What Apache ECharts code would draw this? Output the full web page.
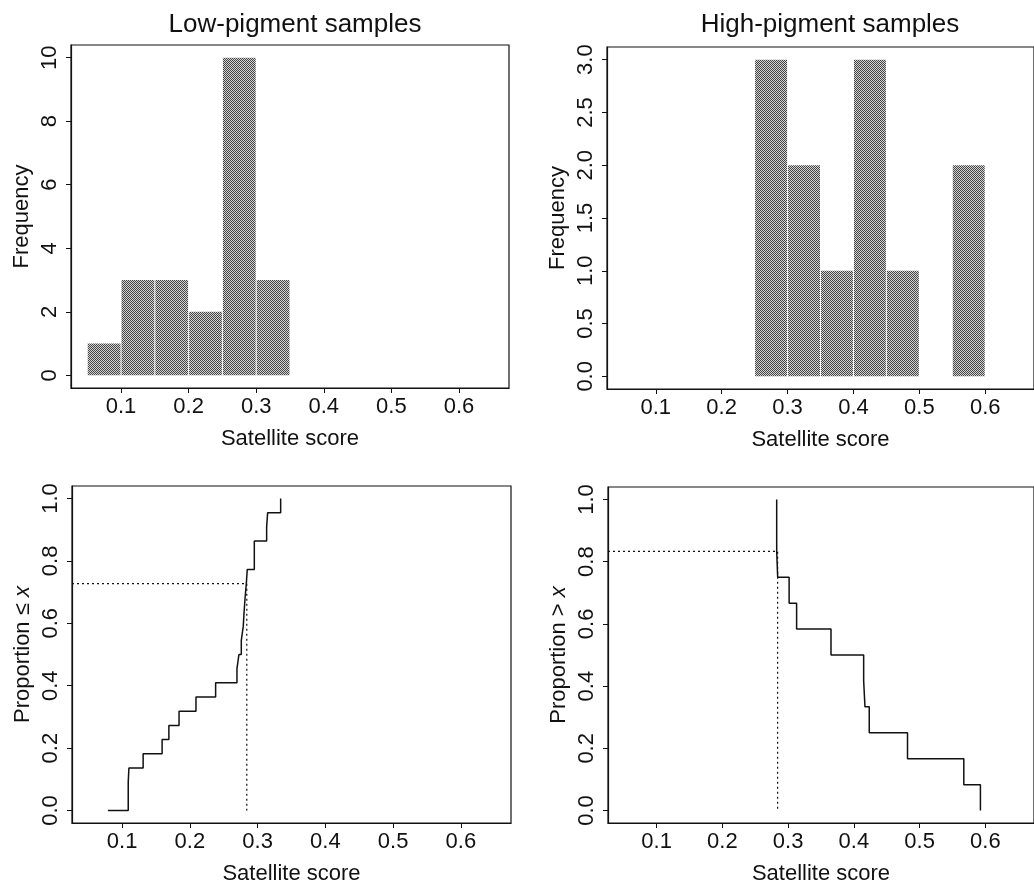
<!DOCTYPE html>
<html>
<head>
<meta charset="utf-8">
<script src="https://cdn.jsdelivr.net/npm/echarts@6/dist/echarts.min.js"></script>
<style>
html,body{margin:0;padding:0;background:#fff;}
#chart{width:1034px;height:886px;}
</style>
</head>
<body>
<div id="chart"></div>
<script>
// ---------------- DATA ----------------
const titles = ['Low-pigment samples', 'High-pigment samples'];
const xAxisName = 'Satellite score';
const xTicks = [0.1, 0.2, 0.3, 0.4, 0.5, 0.6];
const xRange = [0.026, 0.674];
const binWidth = 0.05;

// histogram: bin left edges and counts
const lowBinStarts = [0.05, 0.10, 0.15, 0.20, 0.25, 0.30];
const lowCounts = [1, 3, 3, 2, 10, 3];
const highBinStarts = [0.25, 0.30, 0.35, 0.40, 0.45, 0.50, 0.55];
const highCounts = [3, 2, 1, 3, 1, 0, 2];

const lowFreqTicks = [0, 2, 4, 6, 8, 10];
const lowFreqRange = [-0.4, 10.4];
const highFreqTicks = [0, 0.5, 1.0, 1.5, 2.0, 2.5, 3.0];
const highFreqRange = [-0.12, 3.12];

const propTicks = [0, 0.2, 0.4, 0.6, 0.8, 1.0];
const propRange = [-0.04, 1.04];

// cumulative step curves (x position of each step, cumulative count after step)
const lowN = 22;
const lowStepX = [0.079, 0.109, 0.110, 0.131, 0.159, 0.169, 0.184, 0.209, 0.238,
                  0.2695, 0.2724, 0.2759, 0.2788, 0.2800, 0.2815, 0.2833, 0.2847,
                  0.2951, 0.3133, 0.3148, 0.334];
const lowStepCount = [0, 2, 3, 4, 5, 6, 7, 8, 9,
                      10, 11, 12, 13, 14, 15, 16, 17,
                      19, 20, 21, 22];
const highN = 12;
const highStepX = [0.2826, 0.2826, 0.2841, 0.3015, 0.3129, 0.3652, 0.4149, 0.4169,
                   0.4234, 0.4816, 0.5672, 0.5925];
const highStepCount = [12, 10, 9, 8, 7, 6, 5, 4, 3, 2, 1, 0];

// dotted reference lines
const cutScore = 0.284;
const lowCutProp = 16 / 22;
const highCutProp = 10 / 12;

// ---------------- CHART ----------------
const FONT = '"Liberation Sans", Arial, Helvetica, sans-serif';
const TXT = '#111';

// stipple pattern
const pat = document.createElement('canvas');
pat.width = 2; pat.height = 2;
const pctx = pat.getContext('2d');
pctx.fillStyle = '#d4d4d4'; pctx.fillRect(0, 0, 2, 2);
pctx.fillStyle = '#444'; pctx.fillRect(0, 0, 1, 1); pctx.fillRect(1, 1, 1, 1);
const barFill = {image: pat, repeat: 'repeat'};

const grids = [
  {left: 71, top: 45, width: 438, height: 343},
  {left: 607, top: 47, width: 436, height: 342},
  {left: 72, top: 486, width: 439, height: 342},
  {left: 608, top: 487, width: 436, height: 342}
];

function fmt1(v) { return v.toFixed(1); }

function xAxis(i) {
  return {
    type: 'value', gridIndex: i, min: xRange[0], max: xRange[1],
    name: xAxisName, nameLocation: 'middle', nameGap: 40,
    nameTextStyle: {fontFamily: FONT, fontSize: 22, color: TXT},
    axisLine: {show: true, onZero: false, lineStyle: {color: TXT, width: 1.2}},
    axisTick: {show: true, length: 5, customValues: xTicks, lineStyle: {color: TXT, width: 1}},
    axisLabel: {show: true, customValues: xTicks, formatter: fmt1, margin: 8,
      fontFamily: FONT, fontSize: 22, color: TXT},
    splitLine: {show: false}
  };
}

function yAxis(i, range, ticks, name, formatter) {
  return {
    type: 'value', gridIndex: i, min: range[0], max: range[1],
    name: name, nameLocation: 'middle', nameGap: 38, nameRotate: 90,
    nameTextStyle: {fontFamily: FONT, fontSize: 22, color: TXT,
      rich: {a: {fontFamily: FONT, fontSize: 22, color: TXT},
             i: {fontFamily: FONT, fontSize: 22, color: TXT, fontStyle: 'italic'}}},
    axisLine: {show: true, onZero: false, lineStyle: {color: TXT, width: 1.2}},
    axisTick: {show: true, length: 5, customValues: ticks, lineStyle: {color: TXT, width: 1}},
    axisLabel: {show: true, customValues: ticks, formatter: formatter, margin: 10, rotate: 90,
      fontFamily: FONT, fontSize: 22, color: TXT},
    splitLine: {show: false}
  };
}

function histSeries(i, starts, counts) {
  return {
    type: 'custom', xAxisIndex: i, yAxisIndex: i,
    data: starts.map((s, k) => [s, s + binWidth, counts[k]]),
    renderItem: function (params, api) {
      const c = api.value(2);
      if (!c) return null;
      const p0 = api.coord([api.value(0), c]);
      const p1 = api.coord([api.value(1), 0]);
      return {
        type: 'rect',
        shape: {x: p0[0] + 0.5, y: p0[1], width: p1[0] - p0[0] - 1, height: p1[1] - p0[1]},
        style: {fill: barFill}
      };
    },
    silent: true
  };
}

function stepSeries(i, xs, counts, n) {
  return {
    type: 'line', xAxisIndex: i, yAxisIndex: i, step: 'end',
    data: xs.map((x, k) => [x, counts[k] / n]),
    showSymbol: false, symbol: 'none', silent: true,
    lineStyle: {color: '#111', width: 1.5}
  };
}

function cutSeries(i, prop) {
  return {
    type: 'line', xAxisIndex: i, yAxisIndex: i,
    data: [[xRange[0], prop], [cutScore, prop], [cutScore, 0]],
    showSymbol: false, symbol: 'none', silent: true,
    lineStyle: {color: '#111', width: 1.2, type: [2, 3]}
  };
}

const option = {
  backgroundColor: '#fff',
  animation: false,
  title: [
    {text: titles[0], left: 290, top: 7, textAlign: 'center',
     textStyle: {fontFamily: FONT, fontSize: 26, fontWeight: 'normal', color: TXT}},
    {text: titles[1], left: 825, top: 7, textAlign: 'center',
     textStyle: {fontFamily: FONT, fontSize: 26, fontWeight: 'normal', color: TXT}}
  ],
  grid: grids.map(g => Object.assign({show: true, borderColor: '#111', borderWidth: 1.2,
    backgroundColor: 'transparent', containLabel: false}, g)),
  xAxis: [xAxis(0), xAxis(1), xAxis(2), xAxis(3)],
  yAxis: [
    yAxis(0, lowFreqRange, lowFreqTicks, 'Frequency', v => String(v)),
    yAxis(1, highFreqRange, highFreqTicks, 'Frequency', fmt1),
    yAxis(2, propRange, propTicks, '{a|Proportion ≤ }{i|x}', fmt1),
    yAxis(3, propRange, propTicks, '{a|Proportion > }{i|x}', fmt1)
  ],
  series: [
    histSeries(0, lowBinStarts, lowCounts),
    histSeries(1, highBinStarts, highCounts),
    cutSeries(2, lowCutProp),
    stepSeries(2, lowStepX, lowStepCount, lowN),
    cutSeries(3, highCutProp),
    stepSeries(3, highStepX, highStepCount, highN)
  ]
};

const chart = echarts.init(document.getElementById('chart'), null, {renderer: 'canvas'});
chart.setOption(option);
</script>
</body>
</html>
